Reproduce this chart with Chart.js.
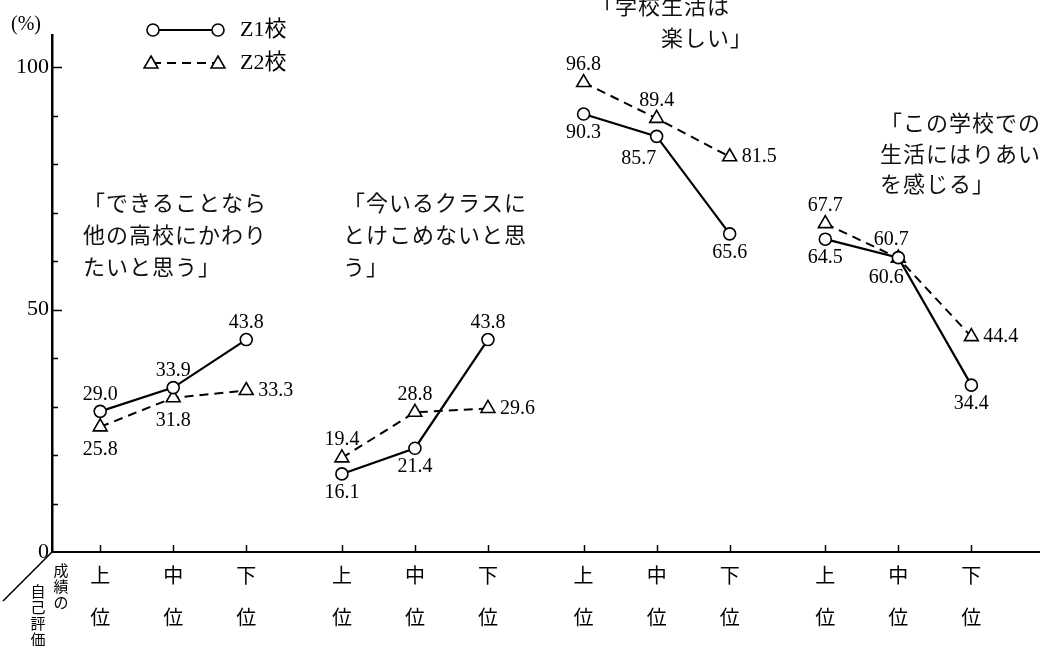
<!DOCTYPE html>
<html><head><meta charset="utf-8">
<script src="https://cdn.jsdelivr.net/npm/chart.js@4.4.1/dist/chart.umd.min.js"></script>
<style>html,body{margin:0;padding:0;background:#fff}</style>
</head><body>
<canvas id="c" width="1040" height="646"></canvas>
<script>
// ---------- data ----------
const groupTitles = [
  ['「できることなら', '他の高校にかわり', 'たいと思う」'],
  ['「今いるクラスに', 'とけこめないと思', 'う」'],
  ['「学校生活は', '　　　楽しい」'],
  ['「この学校での', '生活にはりあい', 'を感じる」']
];
const levels = ['上位', '中位', '下位'];
const seriesNames = ['Z1校', 'Z2校'];
const z1Values = [29.0, 33.9, 43.8, 16.1, 21.4, 43.8, 90.3, 85.7, 65.6, 64.5, 60.7, 34.4];
const z2Values = [25.8, 31.8, 33.3, 19.4, 28.8, 29.6, 96.8, 89.4, 81.5, 67.7, 60.6, 44.4];
const yTickLabels = [0, 50, 100];
const yUnit = '(%)';
const axisNote = ['成績の', '自己評価'];

// ---------- layout (not data) ----------
const GROUP_SPAN = 3.31;
const z1LabelPlace = ['above','above','above','below','below','above','below','belowLeft','below','below','aboveLeft','below'];
const z2LabelPlace = ['below','below','right','above','above','right','above','above','right','above','belowLeft','right'];
const titleLayout = [
  {x: 83, y: 203, ls: 32},
  {x: 343, y: 203, ls: 32},
  {x: 592, y: 6, ls: 32},
  {x: 880, y: 123, ls: 30.5}
];

const catPositions = [];
groupTitles.forEach((g, gi) => levels.forEach((l, li) => catPositions.push(gi * GROUP_SPAN + li)));

function buildSeries(values) {
  const pts = [];
  values.forEach((v, k) => {
    if (k > 0 && k % levels.length === 0) pts.push({x: catPositions[k] - 0.5, y: null});
    pts.push({x: catPositions[k], y: v});
  });
  return pts;
}

const SERIF = '"Liberation Serif", "DejaVu Serif", serif';
const JP = '"Noto Sans CJK JP", sans-serif';
const MIX = '"Liberation Serif", "Noto Sans CJK JP", serif';

function drawMarker(ctx, style, x, y, r) {
  ctx.beginPath();
  if (style === 'circle') {
    ctx.arc(x, y, r, 0, Math.PI * 2);
  } else {
    let rad = 0;
    ctx.moveTo(x + Math.sin(rad) * r, y - Math.cos(rad) * r);
    rad += Math.PI * 2 / 3;
    ctx.lineTo(x + Math.sin(rad) * r, y - Math.cos(rad) * r);
    rad += Math.PI * 2 / 3;
    ctx.lineTo(x + Math.sin(rad) * r, y - Math.cos(rad) * r);
    ctx.closePath();
  }
  ctx.fillStyle = '#fff';
  ctx.fill();
  ctx.stroke();
}

const decor = {
  id: 'decor',
  afterDraw(chart) {
    const ctx = chart.ctx, xs = chart.scales.x, ys = chart.scales.y, ca = chart.chartArea;
    ctx.save();
    ctx.strokeStyle = '#000';
    ctx.fillStyle = '#000';
    ctx.lineWidth = 1.5;
    // inward y ticks
    for (let v = 10; v <= 100; v += 10) {
      const y = Math.round(ys.getPixelForValue(v)) + 0.5;
      const len = v % 50 === 0 ? 10 : 6;
      ctx.beginPath(); ctx.moveTo(ca.left, y); ctx.lineTo(ca.left + len, y); ctx.stroke();
    }
    // inward x ticks
    catPositions.forEach(p => {
      const x = Math.round(xs.getPixelForValue(p)) + 0.5;
      ctx.beginPath(); ctx.moveTo(x, ca.bottom); ctx.lineTo(x, ca.bottom - 7); ctx.stroke();
    });
    // diagonal
    ctx.lineWidth = 1.6;
    ctx.beginPath(); ctx.moveTo(ca.left, ca.bottom); ctx.lineTo(3, 601); ctx.stroke();
    // axis note (vertical text)
    ctx.font = '15px ' + JP;
    ctx.textAlign = 'center'; ctx.textBaseline = 'middle';
    [...axisNote[0]].forEach((ch, i) => ctx.fillText(ch, 61, 570 + i * 16));
    [...axisNote[1]].forEach((ch, i) => ctx.fillText(ch, 38, 591 + i * 16));
    // unit
    ctx.font = '20px ' + SERIF;
    ctx.textAlign = 'left';
    ctx.fillText(yUnit, 11, 25);
    // legend
    chart.data.datasets.forEach((ds, i) => {
      const y = 30 + i * 33;
      ctx.save();
      ctx.lineWidth = 2;
      ctx.setLineDash(ds.borderDash || []);
      ctx.beginPath(); ctx.moveTo(152, y); ctx.lineTo(218, y); ctx.stroke();
      ctx.restore();
      ctx.lineWidth = 1.6;
      const st = ds.pointStyle, r = ds.pointRadius;
      const yy = st === 'triangle' ? y + 1 : y;
      drawMarker(ctx, st, st === 'triangle' ? 151 : 153, yy, r);
      drawMarker(ctx, st, 218, yy, r);
      ctx.fillStyle = '#000';
      ctx.font = '22px ' + MIX;
      ctx.textAlign = 'left'; ctx.textBaseline = 'middle';
      ctx.fillText(ds.label, 240, y);
    });
    // group titles
    ctx.font = '22px ' + JP;
    ctx.letterSpacing = '1px';
    ctx.textAlign = 'left'; ctx.textBaseline = 'middle';
    ctx.fillStyle = '#111';
    groupTitles.forEach((lines, gi) => {
      const L = titleLayout[gi];
      lines.forEach((t, li) => ctx.fillText(t, L.x, L.y + li * L.ls));
    });
    ctx.letterSpacing = '0px';
    // value labels
    ctx.fillStyle = '#000';
    ctx.font = '20px ' + SERIF;
    const offs = {
      circle: {above: [0, -17, 'center'], below: [0, 19, 'center'], belowLeft: [-18, 22, 'center'], aboveLeft: [-7, -18, 'center'], right: [12, 0, 'left']},
      triangle: {above: [0, -18, 'center'], below: [0, 23, 'center'], belowLeft: [-12, 20, 'center'], aboveLeft: [-7, -18, 'center'], right: [12, 0, 'left']}
    };
    const places = [z1LabelPlace, z2LabelPlace];
    const vals = [z1Values, z2Values];
    chart.data.datasets.forEach((ds, di) => {
      const meta = chart.getDatasetMeta(di);
      let k = 0;
      meta.data.forEach((el, idx) => {
        const raw = ds.data[idx];
        if (raw.y === null) return;
        const o = offs[ds.pointStyle][places[di][k]];
        ctx.textAlign = o[2];
        ctx.fillText(vals[di][k].toFixed(1), el.x + o[0], el.y + o[1]);
        k++;
      });
    });
    ctx.restore();
  }
};

new Chart(document.getElementById('c'), {
  type: 'line',
  data: {
    datasets: [
      {
        label: seriesNames[0], data: buildSeries(z1Values),
        borderColor: '#000', borderWidth: 2.2, tension: 0, spanGaps: false,
        pointStyle: 'circle', pointRadius: 6, pointBorderWidth: 1.6,
        pointBackgroundColor: '#fff', pointBorderColor: '#000'
      },
      {
        label: seriesNames[1], data: buildSeries(z2Values),
        borderColor: '#000', borderWidth: 2, borderDash: [9, 6], tension: 0, spanGaps: false,
        pointStyle: 'triangle', pointRadius: 8, pointBorderWidth: 1.6,
        pointBackgroundColor: '#fff', pointBorderColor: '#000'
      }
    ]
  },
  options: {
    responsive: false, animation: false, devicePixelRatio: 1,
    layout: {autoPadding: false, padding: {top: 35, right: 0, left: 0, bottom: 0}},
    plugins: {legend: {display: false}, tooltip: {enabled: false}, title: {display: false}},
    scales: {
      x: {
        type: 'linear', min: -0.66, max: 12.87,
        grid: {display: false, drawTicks: false},
        border: {display: true, color: '#000', width: 2},
        afterBuildTicks: s => { s.ticks = catPositions.map(v => ({value: v})); },
        afterFit: s => { s.height = 94; },
        ticks: {
          autoSkip: false, maxRotation: 0, minRotation: 0, padding: 2, color: '#000',
          font: {family: 'Noto Sans CJK JP', size: 20, lineHeight: 2.1},
          callback: (v, i) => [...levels[i % levels.length]]
        }
      },
      y: {
        type: 'linear', min: 0, max: 106.6,
        grid: {display: false, drawTicks: false},
        border: {display: true, color: '#000', width: 2.5},
        afterBuildTicks: s => { s.ticks = yTickLabels.map(v => ({value: v})); },
        afterFit: s => { s.width = 52; },
        ticks: {
          padding: 3, color: '#000',
          font: {family: 'Liberation Serif', size: 22},
          callback: v => String(v)
        }
      }
    }
  },
  plugins: [decor]
});
</script>
</body></html>
